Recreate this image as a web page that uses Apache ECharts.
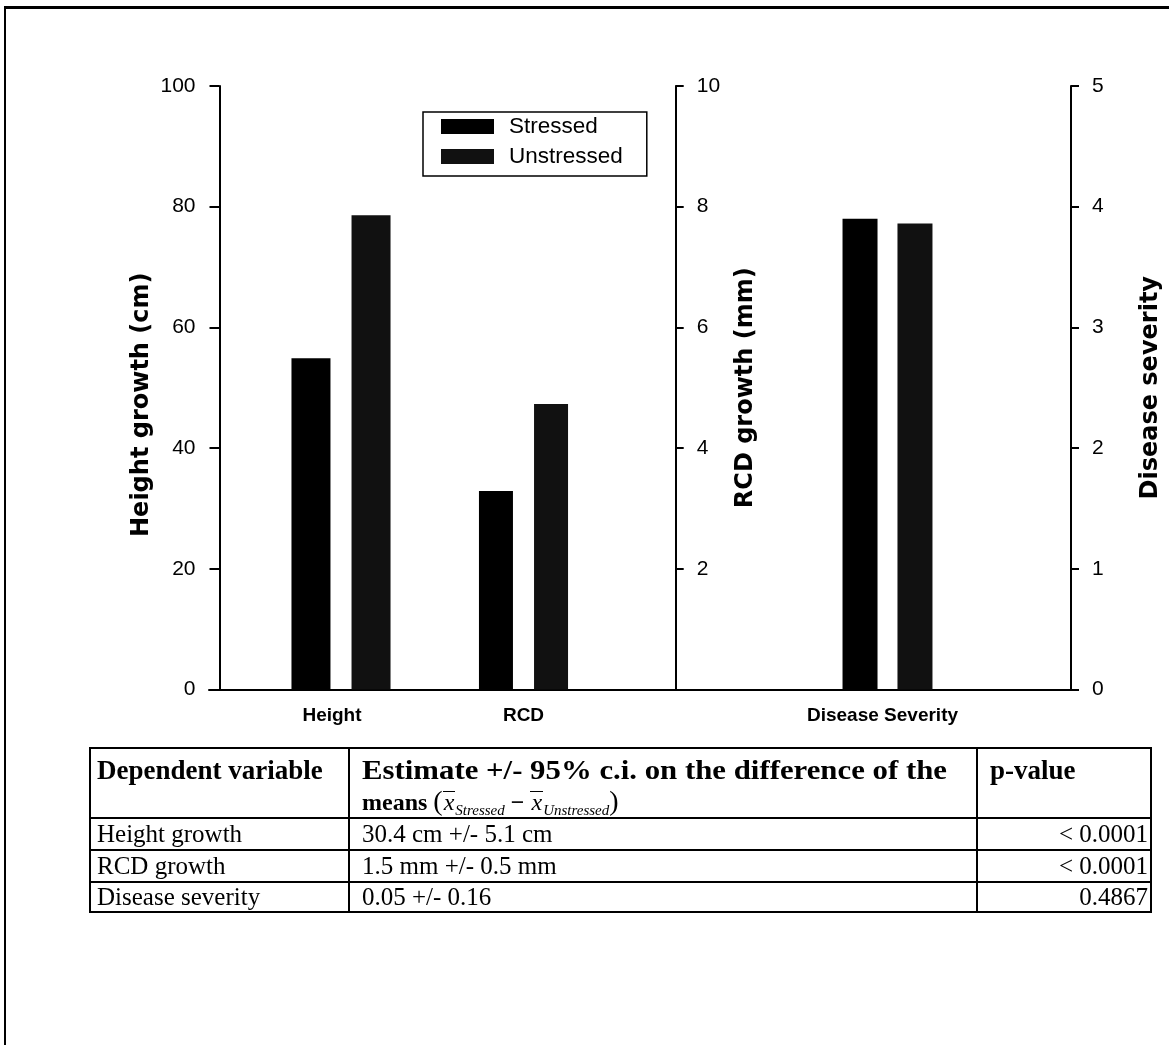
<!DOCTYPE html>
<html>
<head>
<meta charset="utf-8">
<script src="https://cdn.jsdelivr.net/npm/echarts@6/dist/echarts.min.js"></script>
<style>
  html, body { margin: 0; padding: 0; background: #fff; }
  #wrap { position: relative; width: 1169px; height: 1045px; overflow: hidden; }
  #chart { position: absolute; left: 0; top: 0; width: 1169px; height: 1045px; }
  #frame { position: absolute; left: 4px; top: 6px; width: 1170px; height: 1045px;
           border-top: 3px solid #000; border-left: 2px solid #000; box-sizing: border-box; }
  #tbl { position: absolute; left: 0; top: 0; width: 1169px; height: 1045px;
         font-family: "Liberation Serif", "Times New Roman", serif; color: #000; }
  .hl { position: absolute; height: 2px; background: #000; }
  .vl { position: absolute; width: 2px; background: #000; }
  .tx { position: absolute; white-space: nowrap; }
  .hd { font-weight: bold; font-size: 27px; height: 30px; line-height: 30px; }
  .bd { font-size: 25px; height: 30px; line-height: 30px; }
  .xb { display: inline-block; font-style: italic; font-weight: normal; border-top: 1.5px solid #000;
        line-height: 20px; padding: 0 1px; }
  .sb { font-style: italic; font-weight: normal; font-size: 15px; position: relative; top: 5px; }
  .par { font-size: 28px; font-weight: normal; }
</style>
</head>
<body>
<div id="wrap">
  <div id="chart"></div>
  <div id="frame"></div>
  <div id="tbl"></div>
</div>
<script>
// ---------- data ----------
const categories = ['Height', 'RCD', 'Disease Severity'];
const seriesNames = ['Stressed', 'Unstressed'];
const stressed = [54.9, 3.29, 3.90];
const unstressed = [78.6, 4.73, 3.86];
const axisTitles = ['Height growth (cm)', 'RCD growth (mm)', 'Disease severity'];
const axisMax = [100, 10, 5];
const axisInterval = [20, 2, 1];

const tableHeader = ['Dependent variable', 'Estimate +/- 95% c.i. on the difference of the', 'p-value'];
const tableHeaderLine2 = 'means';
const tableVariables = ['Height growth', 'RCD growth', 'Disease severity'];
const tableEstimates = ['30.4 cm +/- 5.1 cm', '1.5 mm +/- 0.5 mm', '0.05 +/- 0.16'];
const tablePValues = ['< 0.0001', '< 0.0001', '0.4867'];

// ---------- chart ----------
const sans = '"Liberation Sans", Arial, sans-serif';
const titleFont = '"DejaVu Sans", sans-serif';
const PLOT_TOP = 86, PLOT_H = 603.5;

const grids = [
  { left: 250, top: PLOT_TOP, width: 182, height: PLOT_H },
  { left: 432.5, top: PLOT_TOP, width: 182, height: PLOT_H },
  { left: 796.5, top: PLOT_TOP, width: 182, height: PLOT_H },
  { left: 209, top: PLOT_TOP, width: 862, height: PLOT_H }
];
const axisPos = ['left', 'right', 'right'];
const axisOffset = [30.5, 61.2, 92.5];
const tickLen = [10, 8, 8];
const labelMargin = [24, 21, 21];
const nameGap = [66, 58, 68];
const barWidths = [39, 34, 35];
const barGaps = ['54%', '62%', '57%'];
const colors = ['#000000', '#111111'];

const xAxes = categories.map((c, i) => ({
  type: 'category', gridIndex: i, data: [c],
  axisLine: { show: false }, axisTick: { show: false },
  axisLabel: {
    margin: 17, color: '#000', fontSize: 19, fontWeight: 'bold', fontFamily: sans,
    padding: i === 0 ? [0, 18, 0, 0] : (i === 2 ? [0, 10, 0, 0] : 0)
  }
}));
xAxes.push({
  type: 'value', gridIndex: 3, min: 0, max: 1,
  axisLine: { show: true, onZero: false, lineStyle: { color: '#000', width: 2 } },
  axisTick: { show: false }, axisLabel: { show: false }, splitLine: { show: false }
});

const yAxes = categories.map((c, i) => ({
  type: 'value', gridIndex: i, position: axisPos[i], offset: axisOffset[i],
  min: 0, max: axisMax[i], interval: axisInterval[i],
  name: axisTitles[i], nameLocation: 'middle', nameRotate: 90, nameGap: nameGap[i],
  nameTextStyle: {
    color: '#000', fontSize: 24, fontWeight: 'bold', fontFamily: titleFont,
    padding: i === 0 ? [0, 34, 0, 0] : 0
  },
  axisLine: { show: true, onZero: false, lineStyle: { color: '#000', width: 2 } },
  axisTick: { show: true, inside: false, length: tickLen[i], lineStyle: { color: '#000', width: 2 } },
  axisLabel: {
    margin: labelMargin[i], color: '#000', fontSize: 21, fontFamily: sans,
    formatter: v => (i === 1 && v === 0) ? '' : String(v)
  },
  splitLine: { show: false }
}));
yAxes.push({ type: 'value', gridIndex: 3, min: 0, max: 1, show: false });

const series = [];
categories.forEach((c, i) => {
  [stressed, unstressed].forEach((vals, s) => {
    series.push({
      type: 'bar', name: seriesNames[s], xAxisIndex: i, yAxisIndex: i,
      data: [vals[i]], barWidth: barWidths[i], barGap: barGaps[i],
      itemStyle: { color: colors[s] }, silent: true
    });
  });
});

const chart = echarts.init(document.getElementById('chart'), null, { renderer: 'canvas' });
chart.setOption({
  animation: false,
  backgroundColor: '#fff',
  legend: {
    data: seriesNames, orient: 'vertical', left: 423, top: 112,
    icon: 'rect', itemWidth: 53, itemHeight: 15, itemGap: 7,
    padding: [3, 24, 8, 18],
    borderColor: '#000', borderWidth: 1.5,
    textStyle: { color: '#000', fontSize: 22.5, fontFamily: sans, padding: [0, 0, 0, 10] },
    selectedMode: false
  },
  grid: grids,
  xAxis: xAxes,
  yAxis: yAxes,
  series: series
});

// ---------- table (HTML lines + text) ----------
const T = { left: 90, right: 1151, rows: [748, 818, 850, 882, 912], cols: [90, 349, 977, 1151] };
const tbl = document.getElementById('tbl');
let h = '';
T.rows.forEach(y => { h += '<div class="hl" style="left:' + T.left + 'px;top:' + (y - 1) + 'px;width:' + (T.right - T.left + 1) + 'px"></div>'; });
T.cols.forEach(x => { h += '<div class="vl" style="left:' + (x - 1) + 'px;top:' + (T.rows[0] - 1) + 'px;height:' + (T.rows[4] - T.rows[0] + 2) + 'px"></div>'; });
function txt(cls, x, cy, content, extra) {
  return '<div class="tx ' + cls + '" style="left:' + x + 'px;top:' + (cy - 15) + 'px;' + (extra || '') + '">' + content + '</div>';
}
h += txt('hd', 97, 770, tableHeader[0]);
h += txt('hd', 362, 770, tableHeader[1], 'font-size:28px;transform:scaleX(1.1);transform-origin:0 50%;');
h += txt('hd', 362, 801, tableHeaderLine2 + ' <span class="par">(</span><span class="xb">x</span><span class="sb">Stressed</span> &minus; <span class="xb">x</span><span class="sb">Unstressed</span><span class="par">)</span>', 'font-size:24px;');
h += txt('hd', 990, 770, tableHeader[2]);
const bodyCenters = [834, 866, 897];
tableVariables.forEach((v, i) => {
  h += txt('bd', 97, bodyCenters[i], v);
  h += txt('bd', 362, bodyCenters[i], tableEstimates[i]);
  h += '<div class="tx bd" style="right:' + (1169 - 1148) + 'px;top:' + (bodyCenters[i] - 15) + 'px;text-align:right">' + tablePValues[i].replace('<', '&lt;') + '</div>';
});
tbl.innerHTML = h;
</script>
</body>
</html>
